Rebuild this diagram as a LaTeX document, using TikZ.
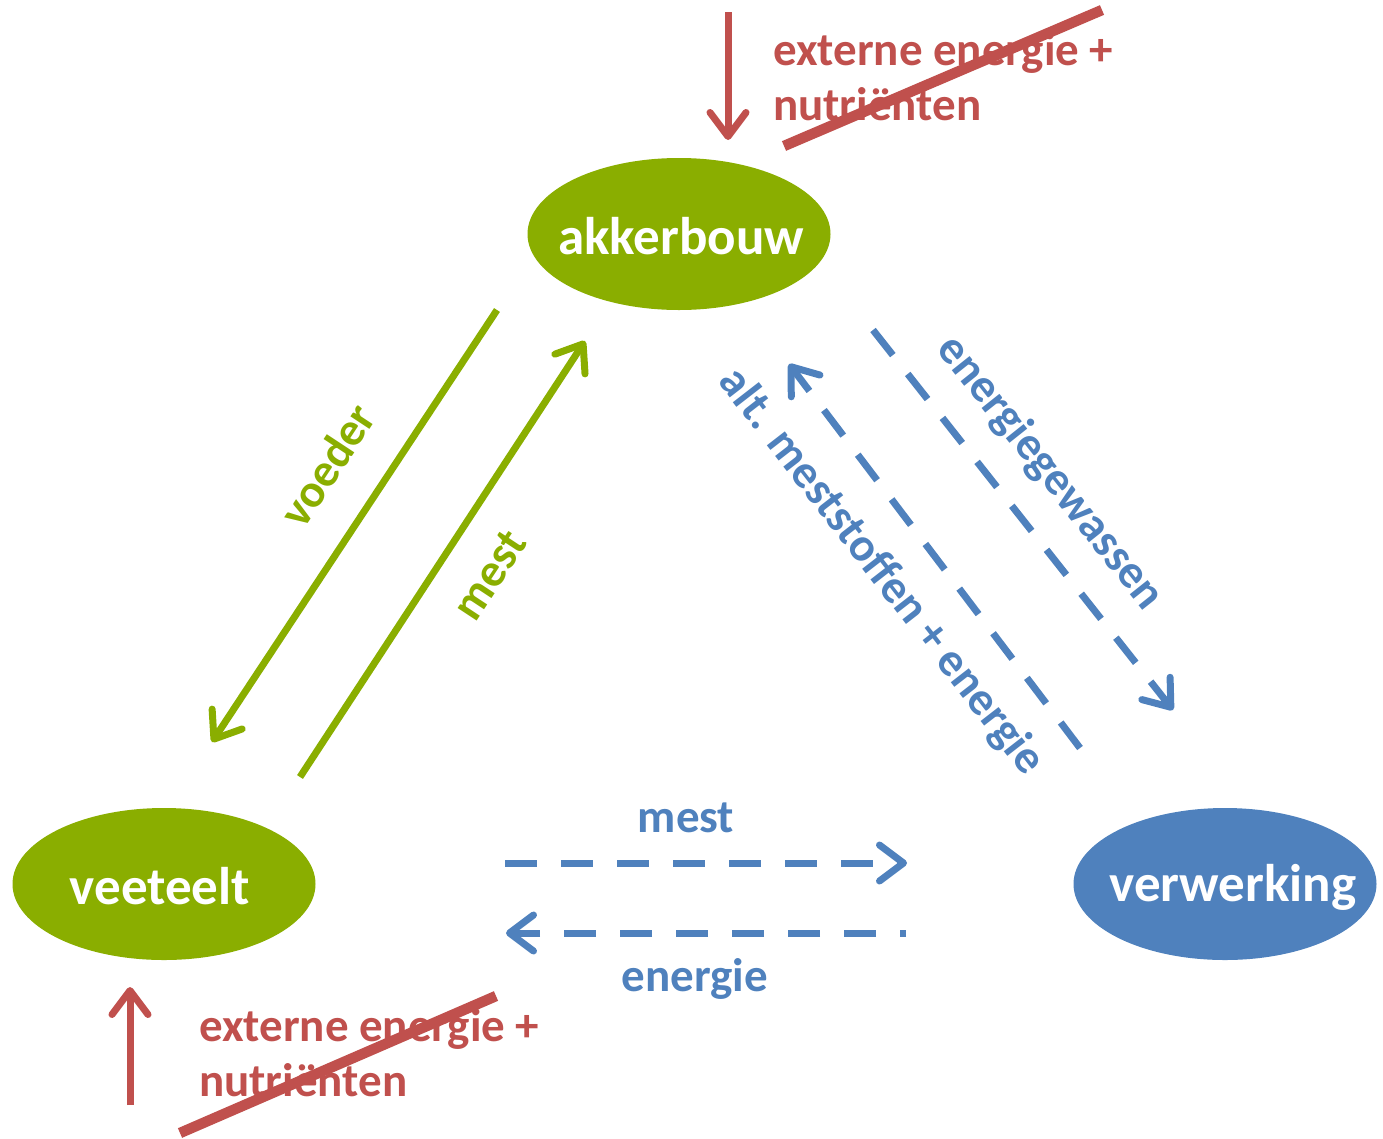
\documentclass[tikz,border=0pt]{standalone}
\usepackage{fontspec}
\setmainfont{Carlito}
\usetikzlibrary{arrows.meta,shapes.geometric}
\definecolor{grn}{RGB}{138,174,0}
\definecolor{blu}{RGB}{79,129,189}
\definecolor{rd}{RGB}{192,80,77}
\begin{document}
\begin{tikzpicture}[x=1pt,y=-1pt,
  ell/.style={ellipse, minimum width=303pt, minimum height=152pt, inner sep=0pt},
  elltext/.style={inner sep=0pt, font=\bfseries\fontsize{53}{60}\selectfont, text=white},
  lbl/.style={font=\bfseries\fontsize{47}{55}\selectfont, inner sep=0pt},
  tipend/.style={-{Straight Barb[length=24pt,width=36pt,line cap=round,line join=round]}},
  flow/.style={line width=7pt, tipend},
  dashflow/.style={line width=7pt, tipend, dash pattern=on 32pt off 24pt},
  strike/.style={line width=10.5pt, rd}]
\useasboundingbox (0,0) rectangle (1383,1138);

% nodes
\node[ell, fill=grn] (akker) at (679,234) {};
\node[elltext] (akkert) at (681,236) {akkerbouw};
\node[ell, fill=grn] (vee) at (164,884) {};
\node[elltext] (veet) at (160,886) {veeteelt};
\node[ell, fill=blu] (verw) at (1225,884) {};
\node[elltext] (verwt) at (1233,887) {verwerking};

% red external inputs
\coordinate (rt1) at (728,12);
\coordinate (rt2) at (728,140);
\draw[flow, rd] (rt1) -- (rt2);
\node[lbl, text=rd, anchor=base west] (ext1a) at (773,65) {externe energie +};
\node[lbl, text=rd, anchor=base west] (ext1b) at (773,120) {nutriënten};
\coordinate (s1a) at (784,146);
\coordinate (s1b) at (1102,10);
\draw[strike] (s1a) -- (s1b);

\coordinate (rb1) at (130,1105);
\coordinate (rb2) at (130,987);
\draw[flow, rd] (rb1) -- (rb2);
\node[lbl, text=rd, anchor=base west] (ext2a) at (199,1041) {externe energie +};
\node[lbl, text=rd, anchor=base west] (ext2b) at (199,1096) {nutriënten};
\coordinate (s2a) at (180,1133);
\coordinate (s2b) at (496,996);
\draw[strike] (s2a) -- (s2b);

% green flows
\coordinate (v1) at (497,310);
\coordinate (v2) at (212,742);
\draw[flow, grn] (v1) -- (v2);
\coordinate (m1) at (300,777);
\coordinate (m2) at (585,341);
\draw[flow, grn] (m1) -- (m2);
\node[lbl, text=grn, rotate=56.6] (voeder) at (327,465) {voeder};
\node[lbl, text=grn, rotate=56.6] (mestg) at (490,575) {mest};

% blue flows
\coordinate (e1) at (873,330);
\coordinate (e2) at (1173,710);
\draw[dashflow, blu] (e1) -- (e2);
\coordinate (a1) at (1080,748);
\coordinate (a2) at (789,364);
\draw[dashflow, blu] (a1) -- (a2);
\node[lbl, text=blu, rotate=-51.5] (egw) at (1050,473) {energiegewassen};
\node[lbl, text=blu, rotate=-52.2] (alt) at (881,572) {alt. meststoffen + energie};

\coordinate (h1) at (505,863);
\coordinate (h2) at (907,863);
\draw[dashflow, blu] (h1) -- (h2);
\coordinate (g1) at (906,933);
\coordinate (g2) at (506,933);
\draw[dashflow, blu, dash phase=26pt] (g1) -- (g2);
\node[lbl, text=blu] (mestb) at (686,818) {mest};
\node[lbl, text=blu] (energ) at (695,979) {energie};
\end{tikzpicture}
\end{document}
